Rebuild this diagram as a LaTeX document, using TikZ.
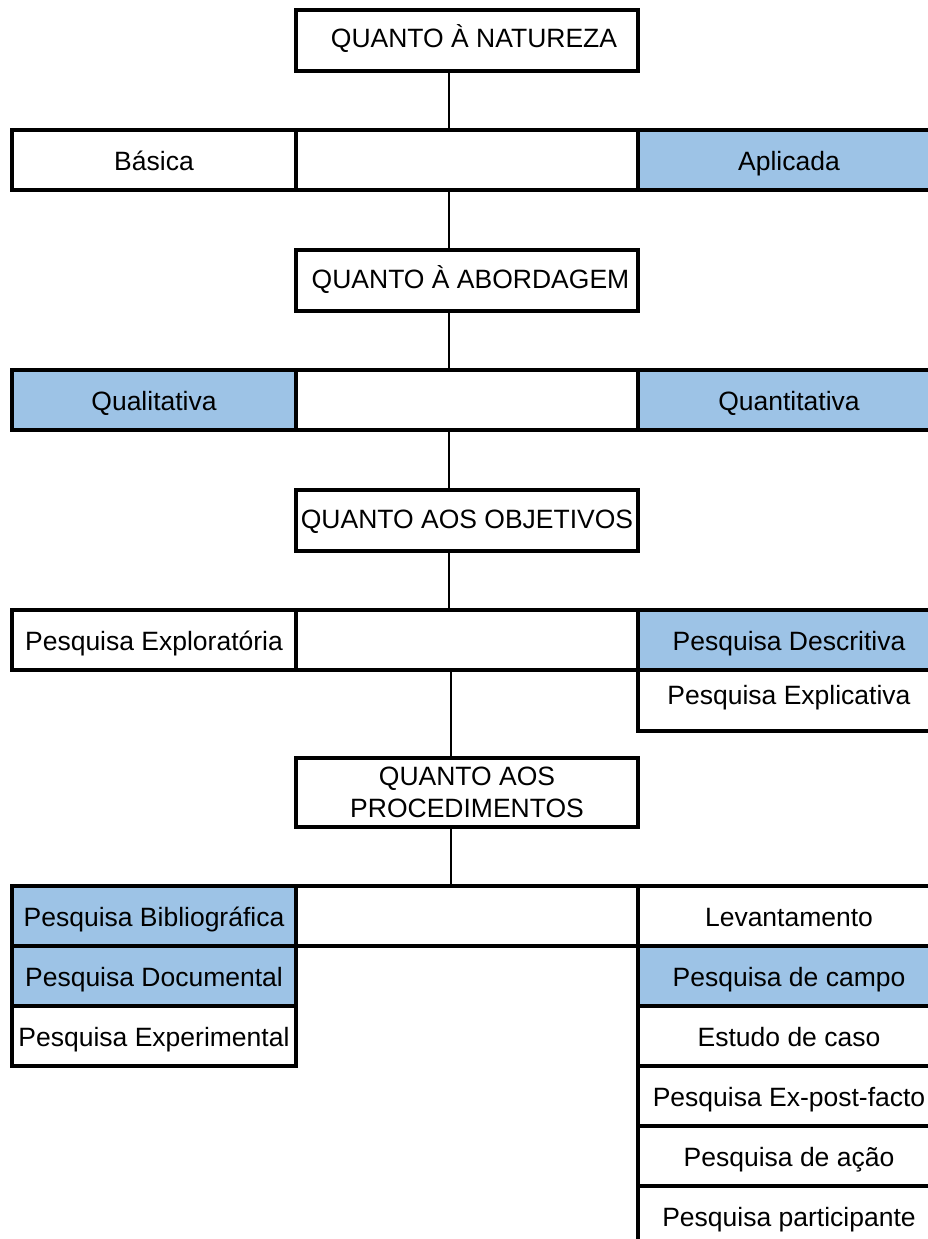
\documentclass[tikz,border=0pt]{standalone}
\usepackage{fontspec}
\setmainfont{Liberation Sans}
\definecolor{cellblue}{HTML}{9DC3E6}
\tikzset{
  basebox/.style={draw=black, line width=3.6pt, inner sep=0pt, fill=white,
    font=\fontsize{26.5}{32}\selectfont},
  boxcell/.style={basebox, text height=22pt, text depth=2pt},
  bluecell/.style={boxcell, fill=cellblue},
  link/.style={draw=black, line width=1.8pt},
  colL/.style={minimum width=284pt, minimum height=60pt},
  colM/.style={minimum width=342pt, minimum height=60pt},
  colR/.style={minimum width=302pt, minimum height=60pt},
  head/.style={minimum width=342pt, minimum height=61pt, text depth=7pt}
}
\begin{document}
\begin{tikzpicture}[x=1pt,y=-1pt]
\useasboundingbox (0,0) rectangle (928,1239);
\coordinate (cx) at (449,0);
\coordinate (cy) at (451,0);

% level 1
\node[boxcell, head] (nat) at (467,40.5) {\hspace*{14pt}QUANTO À NATUREZA};
\node[boxcell, colL] (r1l) at (154,160) {Básica};
\node[boxcell, colM] (r1m) at (467,160) {};
\node[bluecell, colR] (r1r) at (789,160) {Aplicada};

% level 2
\node[boxcell, head] (abo) at (467,280.5) {\hspace*{7pt}QUANTO À ABORDAGEM};
\node[bluecell, colL] (r2l) at (154,400) {Qualitativa};
\node[boxcell, colM] (r2m) at (467,400) {};
\node[bluecell, colR] (r2r) at (789,400) {Quantitativa};

% level 3
\node[boxcell, head] (obj) at (467,520.5) {QUANTO AOS OBJETIVOS};
\node[boxcell, colL] (r3l) at (154,640) {Pesquisa Exploratória};
\node[boxcell, colM] (r3m) at (467,640) {};
\node[bluecell, colR] (r3r) at (789,640) {Pesquisa Descritiva};
\node[boxcell, colR, minimum height=61pt, text depth=14pt] (r3r2) at (789,700.5) {Pesquisa Explicativa};

% level 4
\node[basebox, minimum width=342pt, minimum height=69pt, align=center] (proc) at (467,792.5) {QUANTO AOS\\PROCEDIMENTOS};
\node[bluecell, colL] (r4l) at (154,916) {Pesquisa Bibliográfica};
\node[boxcell, colM] (r4m) at (467,916) {};
\node[boxcell, colR] (r4r) at (789,916) {Levantamento};
\node[bluecell, colL] (r5l) at (154,976) {Pesquisa Documental};
\node[bluecell, colR] (r5r) at (789,976) {Pesquisa de campo};
\node[boxcell, colL] (r6l) at (154,1036) {Pesquisa Experimental};
\node[boxcell, colR] (r6r) at (789,1036) {Estudo de caso};
\node[boxcell, colR] (r7r) at (789,1096) {Pesquisa Ex-post-facto};
\node[boxcell, colR] (r8r) at (789,1156) {Pesquisa de ação};
\node[boxcell, colR] (r9r) at (789,1216) {Pesquisa participante};

% connectors
\draw[link] (nat.south -| cx) -- (r1m.north -| cx);
\draw[link] (r1m.south -| cx) -- (abo.north -| cx);
\draw[link] (abo.south -| cx) -- (r2m.north -| cx);
\draw[link] (r2m.south -| cx) -- (obj.north -| cx);
\draw[link] (obj.south -| cx) -- (r3m.north -| cx);
\draw[link] (r3m.south -| cy) -- (proc.north -| cy);
\draw[link] (proc.south -| cy) -- (r4m.north -| cy);
\end{tikzpicture}
\end{document}
